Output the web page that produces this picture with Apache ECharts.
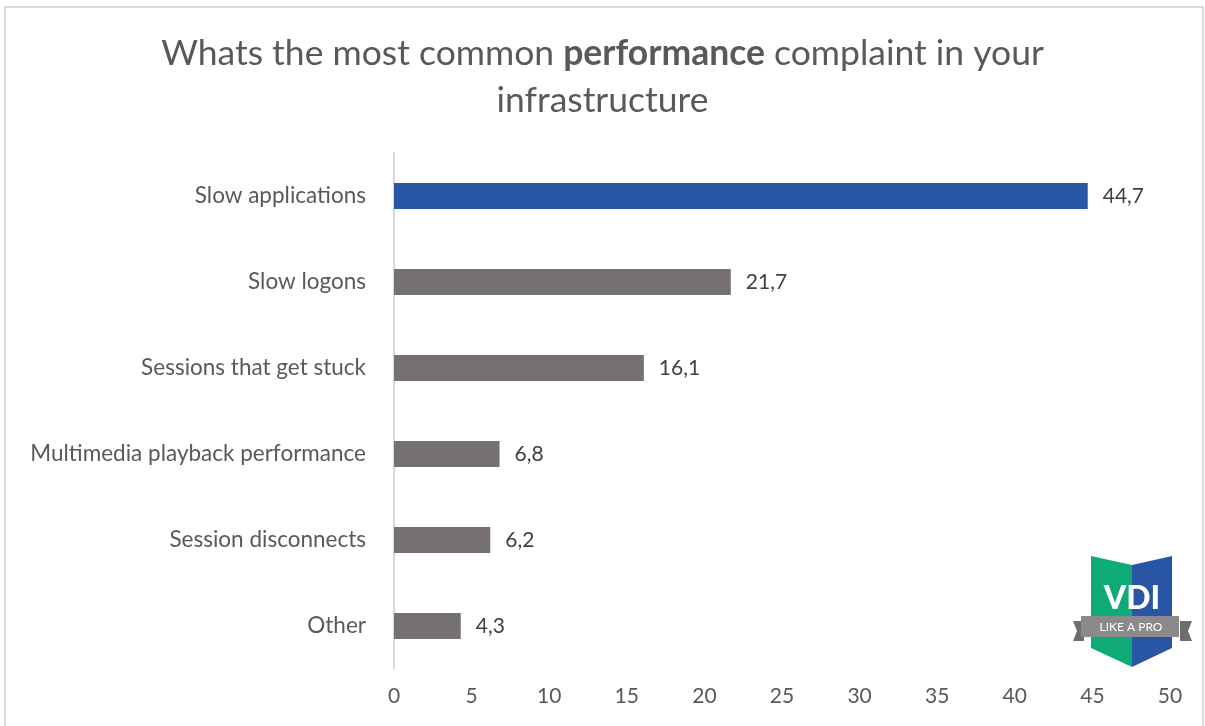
<!DOCTYPE html>
<html>
<head>
<meta charset="utf-8">
<script src="https://cdn.jsdelivr.net/npm/echarts@6/dist/echarts.min.js"></script>
<style>
html,body{margin:0;padding:0;background:#fff;}
#chart{width:1205px;height:726px;}
</style>
</head>
<body>
<div id="chart"></div>
<script>
const categories = ['Slow applications', 'Slow logons', 'Sessions that get stuck', 'Multimedia playback performance', 'Session disconnects', 'Other'];
const values = [44.7, 21.7, 16.1, 6.8, 6.2, 4.3];
const highlightColor = '#2955A5';
const barColor = '#767171';

const chart = echarts.init(document.getElementById('chart'));
const FONT = 'Lato, "Open Sans", sans-serif';

chart.setOption({
  backgroundColor: '#fff',
  title: {
    text: '{n|Whats the most common }{b|performance}{n| complaint in your}\n{n|infrastructure}',
    left: 'center',
    top: 25,
    textStyle: {
      fontWeight: 'normal',
      rich: {
        n: { fontFamily: FONT, fontSize: 35.5, color: '#595959', fontWeight: 'normal', lineHeight: 47 },
        b: { fontFamily: FONT, fontSize: 35.5, color: '#595959', fontWeight: 'bold', lineHeight: 47 }
      }
    }
  },
  grid: { left: 394, right: 35, top: 153, bottom: 57, containLabel: false },
  xAxis: {
    type: 'value', min: 0, max: 50, interval: 5,
    axisLine: { show: false }, axisTick: { show: false },
    splitLine: { show: false },
    axisLabel: { color: '#595959', fontFamily: FONT, fontSize: 21, margin: 17 }
  },
  yAxis: {
    type: 'category', data: categories, inverse: true,
    axisLine: { show: true, lineStyle: { color: '#d9d9d9', width: 2 } },
    axisTick: { show: false },
    axisLabel: { color: '#595959', fontFamily: FONT, fontSize: 22.5, margin: 28 }
  },
  series: [{
    type: 'bar',
    data: values.map((v, i) => ({ value: v, itemStyle: { color: i === 0 ? highlightColor : barColor } })),
    barWidth: 26,
    label: {
      show: true, position: 'right', distance: 15,
      color: '#404040', fontFamily: FONT, fontSize: 21,
      formatter: p => String(p.value).replace('.', ',')
    }
  }],
  graphic: [
    { type: 'rect', shape: { x: 5, y: 7, width: 1198, height: 730 }, style: { fill: 'none', stroke: '#d9d9d9', lineWidth: 2 }, silent: true },
    // logo
    { type: 'polygon', shape: { points: [[1091,556],[1132,565],[1132,667],[1091,648]] }, style: { fill: '#0EAA78' } },
    { type: 'polygon', shape: { points: [[1132,565],[1172,556],[1172,648],[1132,667]] }, style: { fill: '#2955A5' } },
    { type: 'polygon', shape: { points: [[1073,621],[1084,621],[1084,641],[1073,641],[1077,631]] }, style: { fill: '#6E6E6E' } },
    { type: 'polygon', shape: { points: [[1180,621],[1192,621],[1188,631],[1192,641],[1180,641]] }, style: { fill: '#6E6E6E' } },
    { type: 'rect', shape: { x: 1081, y: 616, width: 98, height: 21 }, style: { fill: '#8A8A8A' } },
    { type: 'text', x: 1132, y: 599, style: { text: 'VDI', fill: '#fff', font: '900 32px ' + FONT, textAlign: 'center', textVerticalAlign: 'middle' } },
    { type: 'text', x: 1131, y: 627, style: { text: 'LIKE A PRO', fill: '#fff', font: '12px ' + FONT, textAlign: 'center', textVerticalAlign: 'middle' } }
  ]
});
</script>
</body>
</html>
